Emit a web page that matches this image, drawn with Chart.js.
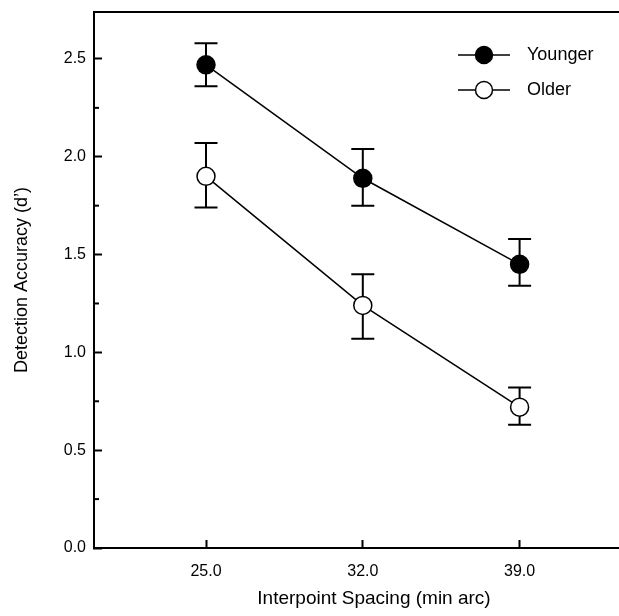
<!DOCTYPE html>
<html><head><meta charset="utf-8">
<script src="https://cdn.jsdelivr.net/npm/chart.js@4.4.1/dist/chart.umd.min.js"></script>
<style>html,body{margin:0;padding:0;background:#fff;overflow:hidden}#wrap{width:619px;height:616px;overflow:hidden}</style>
</head><body>
<div id="wrap"><canvas id="c" width="654" height="616"></canvas></div>
<script>
const spacing = [25.0, 32.0, 39.0];
const youngerMean = [2.47, 1.89, 1.45];
const youngerHigh = [2.58, 2.04, 1.58];
const youngerLow = [2.36, 1.75, 1.34];
const olderMean = [1.90, 1.24, 0.72];
const olderHigh = [2.07, 1.40, 0.82];
const olderLow = [1.74, 1.07, 0.63];
const xTickValues = [25.0, 32.0, 39.0];
const yMinorTicks = [0.25, 0.75, 1.25, 1.75, 2.25];
const seriesNames = ['Younger', 'Older'];

const FONT = "'Liberation Sans', Arial, Helvetica, sans-serif";

function pts(xs, ys) { return xs.map((x, i) => ({x: x, y: ys[i]})); }

function legendIcon(fill) {
  const c = document.createElement('canvas');
  c.width = 60; c.height = 22;
  const g = c.getContext('2d');
  g.strokeStyle = '#000'; g.lineWidth = 1.5;
  g.beginPath(); g.moveTo(0, 11); g.lineTo(52, 11); g.stroke();
  g.beginPath(); g.arc(26, 11, 8.5, 0, Math.PI * 2);
  g.fillStyle = fill; g.fill(); g.lineWidth = 1.5; g.stroke();
  return c;
}
const icons = [legendIcon('#000'), legendIcon('#fff')];

const errorBars = {
  id: 'errorBars',
  beforeDatasetsDraw(chart) {
    const ctx = chart.ctx, xs = chart.scales.x, ys = chart.scales.y;
    const sets = [[youngerLow, youngerHigh], [olderLow, olderHigh]];
    ctx.save();
    ctx.strokeStyle = '#000'; ctx.lineWidth = 2;
    sets.forEach(([lo, hi]) => {
      spacing.forEach((sx, i) => {
        const x = xs.getPixelForValue(sx);
        const y1 = ys.getPixelForValue(lo[i]);
        const y2 = ys.getPixelForValue(hi[i]);
        ctx.beginPath();
        ctx.moveTo(x, y1); ctx.lineTo(x, y2);
        ctx.moveTo(x - 11.5, y1); ctx.lineTo(x + 11.5, y1);
        ctx.moveTo(x - 11.5, y2); ctx.lineTo(x + 11.5, y2);
        ctx.stroke();
      });
    });
    ctx.restore();
  }
};

const minorTicks = {
  id: 'minorTicks',
  afterDraw(chart) {
    const ctx = chart.ctx, ys = chart.scales.y, left = chart.chartArea.left;
    ctx.save();
    ctx.strokeStyle = '#000'; ctx.lineWidth = 2;
    yMinorTicks.forEach(v => {
      const y = ys.getPixelForValue(v);
      ctx.beginPath(); ctx.moveTo(left, y); ctx.lineTo(left + 5, y); ctx.stroke();
    });
    ctx.restore();
  }
};

const placeLegend = {
  id: 'placeLegend',
  afterLayout(chart) {
    const lg = chart.legend;
    lg.left = 441; lg.top = 29; lg.right = 654; lg.bottom = 200;
    lg.width = lg.right - lg.left; lg.height = lg.bottom - lg.top;
  }
};

function noPad(scale) {
  scale.paddingTop = 0; scale.paddingBottom = 0;
  scale.paddingLeft = 0; scale.paddingRight = 0;
}

new Chart(document.getElementById('c'), {
  type: 'line',
  data: {
    datasets: [
      {
        label: seriesNames[0],
        data: pts(spacing, youngerMean),
        borderColor: '#000', borderWidth: 1.5,
        pointRadius: 9, pointHoverRadius: 9,
        pointBackgroundColor: '#000', pointBorderColor: '#000', pointBorderWidth: 1.5
      },
      {
        label: seriesNames[1],
        data: pts(spacing, olderMean),
        borderColor: '#000', borderWidth: 1.5,
        pointRadius: 9, pointHoverRadius: 9,
        pointBackgroundColor: '#fff', pointBorderColor: '#000', pointBorderWidth: 1.5
      }
    ]
  },
  options: {
    responsive: false,
    animation: false,
    events: [],
    layout: { autoPadding: false, padding: { top: 12, right: 0, left: 0, bottom: 0 } },
    plugins: {
      tooltip: { enabled: false },
      legend: {
        position: 'chartArea',
        align: 'start',
        labels: {
          usePointStyle: true,
          pointStyleWidth: 60,
          padding: 17,
          color: '#000',
          font: { family: FONT, size: 18 },
          generateLabels(chart) {
            const items = Chart.defaults.plugins.legend.labels.generateLabels(chart);
            items.forEach((it, i) => { it.pointStyle = icons[i]; });
            return items;
          }
        }
      }
    },
    scales: {
      x: {
        type: 'linear',
        position: 'bottom',
        min: 20, max: 45,
        afterBuildTicks(scale) { scale.ticks = xTickValues.map(v => ({value: v})); },
        afterFit(scale) { scale.height = 68; noPad(scale); },
        grid: { drawOnChartArea: false, drawTicks: true, tickLength: -8, tickWidth: 2, tickColor: '#000' },
        border: { display: true, color: '#000', width: 2 },
        ticks: {
          color: '#000', padding: 22, maxRotation: 0,
          font: { family: FONT, size: 16 },
          callback: v => Number(v).toFixed(1)
        },
        title: {
          display: true, text: 'Interpoint Spacing (min arc)', color: '#000',
          font: { family: FONT, size: 19 }, padding: { top: 6, bottom: 6 }
        }
      },
      x2: {
        type: 'linear',
        position: 'top',
        min: 20, max: 45,
        afterFit(scale) { scale.height = 0; noPad(scale); },
        grid: { display: false, drawTicks: false },
        border: { display: true, color: '#000', width: 2 },
        ticks: { display: false }
      },
      y: {
        type: 'linear',
        position: 'left',
        min: 0, max: 2.74,
        afterFit(scale) { scale.width = 94; noPad(scale); },
        grid: { drawOnChartArea: false, drawTicks: true, tickLength: -8, tickWidth: 2, tickColor: '#000' },
        border: { display: true, color: '#000', width: 2 },
        ticks: {
          stepSize: 0.5, includeBounds: false, color: '#000', padding: 16,
          font: { family: FONT, size: 16 },
          callback: v => Number(v).toFixed(1)
        },
        title: {
          display: true, text: 'Detection Accuracy (d\u2019)', color: '#000',
          font: { family: FONT, size: 18 }, padding: { top: 11, bottom: 11 }
        }
      }
    }
  },
  plugins: [errorBars, minorTicks, placeLegend]
});
</script>
</body></html>
